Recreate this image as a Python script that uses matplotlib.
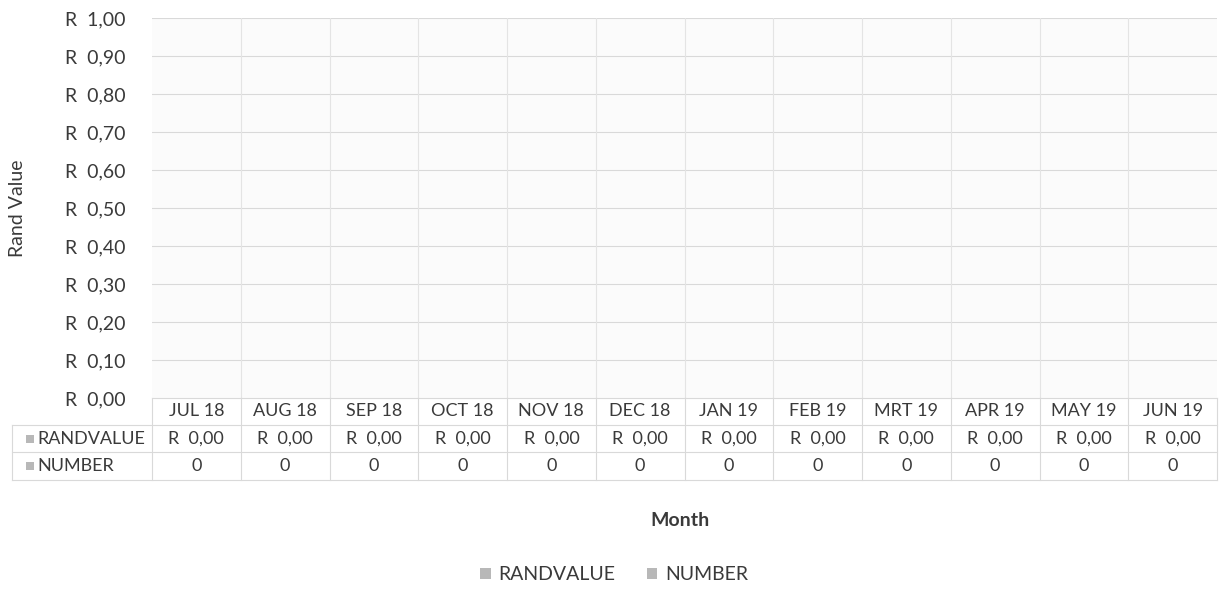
import numpy as np
import matplotlib.pyplot as plt
from matplotlib.patches import Rectangle
from matplotlib.lines import Line2D
from matplotlib.transforms import blended_transform_factory

plt.rcParams['font.family'] = ['Lato', 'DejaVu Sans']
plt.rcParams['hatch.color'] = '#e2e2e2'
plt.rcParams['hatch.linewidth'] = 0.6

months = ['JUL 18', 'AUG 18', 'SEP 18', 'OCT 18', 'NOV 18', 'DEC 18',
          'JAN 19', 'FEB 19', 'MRT 19', 'APR 19', 'MAY 19', 'JUN 19']
randvalue = [0.00] * 12
number = [0] * 12
yticks = [0.0, 0.1, 0.2, 0.3, 0.4, 0.5, 0.6, 0.7, 0.8, 0.9, 1.0]

txt = '#3a3a3a'
grid = '#d9d9d9'
sq = '#b8b8b8'

def rand_fmt(v, sp='  '):
    return 'R' + sp + f'{v:.2f}'.replace('.', ',')

W, H = 1219, 601
fig = plt.figure(figsize=(W / 100, H / 100), dpi=100)
ax = fig.add_axes([152 / W, 1 - 398 / H, (1217 - 152) / W, 380 / H])

x = np.arange(len(months))
ax.bar(x - 0.18, randvalue, width=0.35, color=sq, label='RANDVALUE')
ax.bar(x + 0.18, number, width=0.35, color=sq, label='NUMBER')

ax.set_xlim(-0.5, len(months) - 0.5)
ax.set_ylim(0, 1.0)
ax.set_yticks(yticks)
ax.set_yticklabels([rand_fmt(v) for v in yticks], fontsize=14, color=txt)
ax.tick_params(axis='y', length=0, pad=19)
ax.set_xticks([])
for s in ['top', 'right', 'left']:
    ax.spines[s].set_visible(False)
ax.spines['bottom'].set_color(grid)

# faint textured plot area
ax.add_patch(Rectangle((0, 0), 1, 1, transform=ax.transAxes, facecolor='#fbfbfb',
                       edgecolor='none', hatch='\\\\\\\\', zorder=0))
for v in yticks[1:]:
    ax.axhline(v, color=grid, lw=0.8, zorder=1)
for i in range(1, len(months)):
    ax.axvline(i - 0.5, color='#e4e4e4', lw=0.8, zorder=1)

fy = lambda p: 1 - p / H
fig.text(18 / W, fy(208), 'Rand Value', rotation=90, ha='center', va='center',
         fontsize=14, color=txt)

# data table under the plot
tr = blended_transform_factory(ax.transData, ax.transAxes)
rows = [-27 / 380, -54 / 380, -82 / 380]
mids = [-13.5 / 380, -40.5 / 380, -68 / 380]
for i, m in enumerate(months):
    ax.text(i, mids[0], m, transform=tr, ha='center', va='center', fontsize=13, color=txt)
    ax.text(i, mids[1], rand_fmt(randvalue[i]), transform=tr, ha='center', va='center',
            fontsize=13, color=txt)
    ax.text(i, mids[2], str(number[i]), transform=tr, ha='center', va='center',
            fontsize=13, color=txt)
for i in range(len(months) + 1):
    ax.add_line(Line2D([i - 0.5, i - 0.5], [0, rows[2]], transform=tr, color=grid,
                       lw=0.8, clip_on=False))

left = 12 / W
for p in [425, 452, 480]:
    fig.add_artist(Line2D([left, 1217 / W], [fy(p), fy(p)], color=grid, lw=0.8))
fig.add_artist(Line2D([left, left], [fy(425), fy(480)], color=grid, lw=0.8))
for lab, p in [('RANDVALUE', 438.5), ('NUMBER', 466)]:
    fig.add_artist(Rectangle((26 / W, fy(p) - 4 / H), 8 / W, 8 / H,
                             facecolor=sq, edgecolor='none'))
    fig.text(37 / W, fy(p), lab, ha='left', va='center', fontsize=13, color=txt)

fig.text(680 / W, fy(521), 'Month', ha='center', va='center', fontsize=14,
         color=txt, fontweight='bold')

handles = [Rectangle((0, 0), 1, 1, facecolor=sq, edgecolor='none') for _ in range(2)]
fig.legend(handles, ['RANDVALUE', 'NUMBER'], loc='center', bbox_to_anchor=(614 / W, fy(575)),
           ncol=2, frameon=False, fontsize=14, handlelength=0.55, handleheight=0.55,
           handletextpad=0.4, columnspacing=1.6, labelcolor=txt)

fig.savefig('out.png', dpi=100)
